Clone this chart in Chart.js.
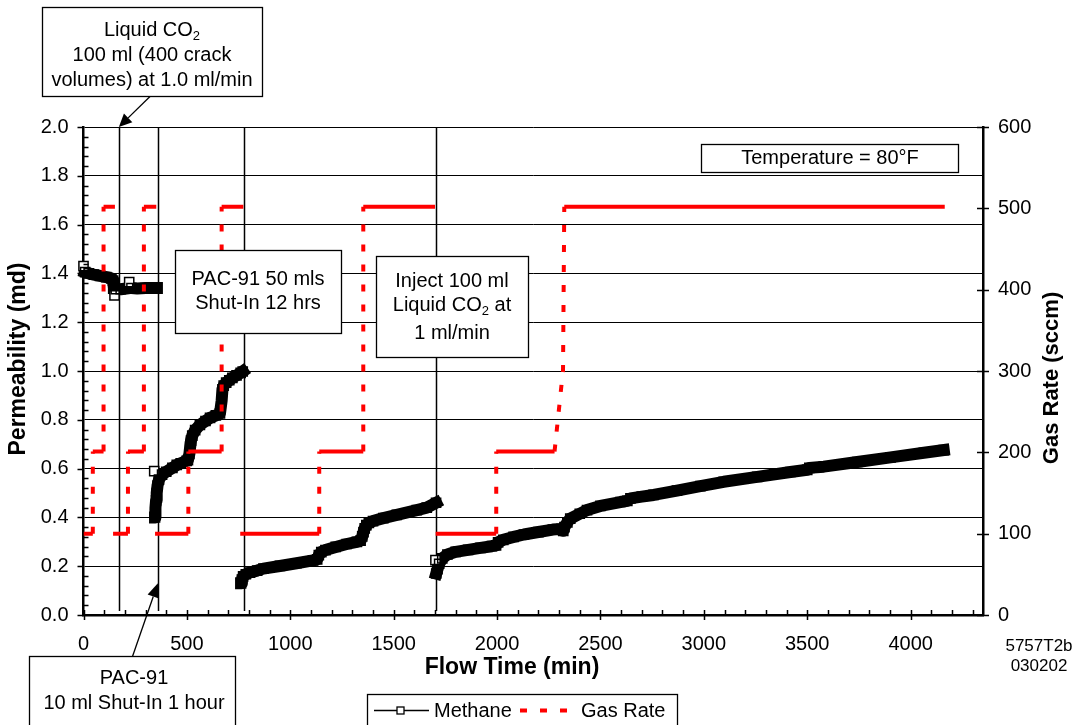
<!DOCTYPE html>
<html>
<head>
<meta charset="utf-8">
<title>Permeability and Gas Rate vs Flow Time</title>
<script src="https://cdn.jsdelivr.net/npm/chart.js@4.4.1/dist/chart.umd.min.js"></script>
<style>
  html, body { margin: 0; padding: 0; background: #fff; }
</style>
</head>
<body>
<canvas id="perm-chart" width="1076" height="725"></canvas>
<script>
// Methane permeability readings: flow time (min) and permeability (md), null splits the runs
const methaneTime = [
  0, 8, 25, 50, 80, 110, 135, 143, 147, 150, 156, 180, 205, 221, 232, 260, 300, 340, 355, null,
  342, 346, 347, 349, 351, 354, 358, 365, 380, 400, 430, 451, 470, 499, 505, 512, 516, 520, 526, 540, 563, 590, 612, 640, 660, 668, 672, 678, 690, 705, 720, 740, 760, 770, null,
  762, 766, 772, 785, 805, 840, 870, 950, 1030, 1110, 1130, 1138, 1150, 1170, 1220, 1273, 1322, 1340, 1348, 1354, 1360, 1368, 1380, 1400, 1450, 1515, 1612, 1660, 1705, null,
  1702, 1706, 1712, 1720, 1735, 1760, 1800, 1860, 1920, 1975, 1995, 2005, 2030, 2080, 2130, 2200, 2270, 2312, 2320, 2326, 2340, 2354, 2400, 2435, 2500, 2596, 2630, 2645, 2700, 2757, 2870, 2983, 3096, 3258, 3419, 3500, 3510, 3580, 3742, 3903, 4064, 4160
];
const methanePerm = [
  1.43, 1.405, 1.40, 1.395, 1.39, 1.385, 1.38, 1.37, 1.34, 1.31, 1.335, 1.335, 1.338, 1.364, 1.34, 1.338, 1.34, 1.34, 1.34, null,
  0.59, 0.40, 0.415, 0.44, 0.47, 0.50, 0.53, 0.555, 0.575, 0.587, 0.603, 0.615, 0.622, 0.632, 0.635, 0.66, 0.69, 0.715, 0.735, 0.758, 0.779, 0.795, 0.808, 0.818, 0.826, 0.878, 0.925, 0.94, 0.952, 0.962, 0.972, 0.982, 0.992, 0.998, null,
  0.13, 0.145, 0.158, 0.167, 0.174, 0.182, 0.19, 0.201, 0.212, 0.224, 0.228, 0.245, 0.258, 0.266, 0.279, 0.291, 0.30, 0.305, 0.322, 0.34, 0.355, 0.368, 0.377, 0.385, 0.397, 0.41, 0.43, 0.44, 0.46, null,
  0.225, 0.17, 0.188, 0.21, 0.232, 0.248, 0.259, 0.267, 0.275, 0.282, 0.285, 0.298, 0.308, 0.32, 0.33, 0.34, 0.35, 0.353, 0.345, 0.36, 0.38, 0.395, 0.415, 0.43, 0.447, 0.463, 0.468, 0.478, 0.485, 0.492, 0.51, 0.528, 0.546, 0.566, 0.586, 0.595, 0.603, 0.608, 0.627, 0.646, 0.665, 0.676
];

// Gas rate set points (sccm)
const gasTime = [
  0, 45, 45, 97, 97, 152, null,
  143, 215, 215, 292, 292, 352, null,
  346, 507, 507, 668, 668, 773, null,
  758, 1140, 1140, 1353, 1353, 1700, null,
  1703, 1996, 1996, 2278, 2319, 2325, 4165
];
const gasRate = [
  100, 100, 201, 201, 502, 502, null,
  100, 100, 201, 201, 502, 502, null,
  100, 100, 201, 201, 502, 502, null,
  100, 100, 201, 201, 502, 502, null,
  100, 100, 201, 201, 301, 502, 502
];

// Treatment events (flow time, min)
const eventTimes = [171, 362, 776, 1705];

// Axis ranges and ticks
const flowRange = [0, 4350], flowMinor = 100;
const flowTicks = [0, 500, 1000, 1500, 2000, 2500, 3000, 3500, 4000];
const permRange = [0, 2.0], permStep = 0.2, permMinor = 0.04;
const rateRange = [0, 600], rateStep = 100;

const FONT = '"Liberation Sans", Arial, Helvetica, sans-serif';

function toPoints(xs, ys) {
  return xs.map((x, i) => ({ x: x, y: ys[i] }));
}

// single readings that sit off the trend get drawn as open squares on a thin line
function isolatedReadings(vals) {
  return vals.map((v, i) => {
    if (v === null) return false;
    const prev = i > 0 ? vals[i - 1] : null;
    const next = i < vals.length - 1 ? vals[i + 1] : null;
    if (prev === null && next !== null) return Math.abs(v - next) > 0.02;
    if (prev === null || next === null) return false;
    const d1 = v - prev, d2 = v - next;
    return d1 * d2 > 0 && Math.min(Math.abs(d1), Math.abs(d2)) > 0.02;
  });
}
const methaneLoose = isolatedReadings(methanePerm);

function richLine(ctx, parts, cx, cy, size) {
  // parts: plain strings, or [string] for subscripts
  const items = parts.map(p => {
    const sub = Array.isArray(p);
    const font = (sub ? Math.round(size * 0.66) : size) + 'px ' + FONT;
    ctx.font = font;
    return { txt: sub ? p[0] : p, sub, font, w: ctx.measureText(sub ? p[0] : p).width };
  });
  let x = cx - items.reduce((s, it) => s + it.w, 0) / 2;
  ctx.textAlign = 'left';
  ctx.textBaseline = 'middle';
  items.forEach(it => {
    ctx.font = it.font;
    ctx.fillText(it.txt, x, cy + (it.sub ? size * 0.3 : 0));
    x += it.w;
  });
}

function arrow(ctx, x0, y0, x1, y1, len, half) {
  const a = Math.atan2(y1 - y0, x1 - x0);
  const bx = x1 - len * Math.cos(a), by = y1 - len * Math.sin(a);
  ctx.beginPath();
  ctx.moveTo(x0, y0);
  ctx.lineTo(bx, by);
  ctx.stroke();
  ctx.beginPath();
  ctx.moveTo(x1, y1);
  ctx.lineTo(bx + half * Math.sin(a), by - half * Math.cos(a));
  ctx.lineTo(bx - half * Math.sin(a), by + half * Math.cos(a));
  ctx.closePath();
  ctx.fill();
}

// text boxes: [left, top, right, bottom], text centre x, line centres y
const notes = [
  { box: [42.5, 7.5, 262.5, 96.5], cx: 152, ys: [30, 55, 80],
    lines: [['Liquid CO', ['2']], ['100 ml (400 crack'], ['volumes) at 1.0 ml/min']] },
  { box: [29.5, 656.5, 235.5, 760], cx: 134, ys: [678, 703],
    lines: [['PAC-91'], ['10 ml Shut-In 1 hour']] },
  { box: [175.5, 250.5, 341.5, 333.5], cx: 258, ys: [279, 303.5],
    lines: [['PAC-91 50 mls'], ['Shut-In 12 hrs']] },
  { box: [376.5, 256.5, 528.5, 357.5], cx: 452, ys: [281, 305, 333],
    lines: [['Inject 100 ml'], ['Liquid CO', ['2'], ' at'], ['1 ml/min']] },
  { box: [701.5, 144.5, 958.5, 172.5], cx: 830, ys: [158.5],
    lines: [['Temperature = 80°F']] }
];

const overlay = {
  id: 'overlay',
  beforeDatasetsDraw(chart) {
    const { ctx, chartArea: a, scales: { x } } = chart;
    ctx.save();
    ctx.strokeStyle = '#000';
    ctx.lineWidth = 1.5;
    eventTimes.forEach(t => {
      const px = Math.round(x.getPixelForValue(t)) + 0.5;
      ctx.beginPath();
      ctx.moveTo(px, a.top);
      ctx.lineTo(px, a.bottom - 4);
      ctx.stroke();
    });
    ctx.restore();
  },
  afterDatasetsDraw(chart) {
    const { ctx, chartArea: a, scales: { x, y, y1 } } = chart;
    ctx.save();
    ctx.fillStyle = '#000';
    ctx.strokeStyle = '#000';

    // tick marks
    ctx.lineWidth = 1.5;
    ctx.beginPath();
    for (let i = 0; i <= Math.round(permRange[1] / permMinor); i++) {
      const py = Math.round(y.getPixelForValue(i * permMinor)) + 0.5;
      if (i % 5 === 0) { ctx.moveTo(a.left - 6, py); ctx.lineTo(a.left, py); }
      else { ctx.moveTo(a.left, py); ctx.lineTo(a.left + 5, py); }
    }
    for (let t = 0; t <= flowRange[1]; t += flowMinor) {
      const px = Math.round(x.getPixelForValue(t)) + 0.5;
      if (flowTicks.includes(t)) { ctx.moveTo(px, a.bottom - 5); ctx.lineTo(px, a.bottom + 5); }
      else { ctx.moveTo(px, a.bottom - 5); ctx.lineTo(px, a.bottom); }
    }
    for (let v = rateRange[0]; v <= rateRange[1]; v += rateStep) {
      const py = Math.round(y1.getPixelForValue(v)) + 0.5;
      ctx.moveTo(a.right - 6, py); ctx.lineTo(a.right + 6, py);
    }
    ctx.stroke();

    // annotation boxes
    notes.forEach(n => {
      const [l, t, r, b] = n.box;
      ctx.fillStyle = '#fff';
      ctx.fillRect(l, t, r - l, b - t);
      ctx.lineWidth = 1.3;
      ctx.strokeStyle = '#000';
      ctx.strokeRect(l, t, r - l, b - t);
      ctx.fillStyle = '#000';
      n.lines.forEach((ln, i) => richLine(ctx, ln, n.cx, n.ys[i], 20));
    });

    // arrows to the event lines
    ctx.lineWidth = 1.3;
    arrow(ctx, 150, 96.5, x.getPixelForValue(eventTimes[0]), a.top, 13, 6);
    arrow(ctx, 132.5, 656.5, x.getPixelForValue(eventTimes[1]) - 0.5, y.getPixelForValue(0.13), 14, 6);

    // axis titles
    ctx.textAlign = 'center';
    ctx.textBaseline = 'middle';
    ctx.font = 'bold 23px ' + FONT;
    ctx.fillText('Flow Time (min)', 512, 668);
    ctx.save();
    ctx.translate(19, 359);
    ctx.rotate(-Math.PI / 2);
    ctx.fillText('Permeability (md)', 0, 0);
    ctx.restore();
    ctx.font = 'bold 22px ' + FONT;
    ctx.save();
    ctx.translate(1052, 378);
    ctx.rotate(-Math.PI / 2);
    ctx.fillText('Gas Rate (sccm)', 0, 0);
    ctx.restore();

    // figure code
    ctx.font = '17px ' + FONT;
    ctx.fillText('5757T2b', 1039, 646);
    ctx.fillText('030202', 1039, 666);

    // legend
    const ds = chart.data.datasets;
    ctx.lineWidth = 1.3;
    ctx.strokeRect(367.5, 694.5, 310, 50);
    ctx.beginPath();
    ctx.moveTo(374, 710.5); ctx.lineTo(429, 710.5);
    ctx.stroke();
    ctx.fillStyle = '#fff';
    ctx.fillRect(397, 707, 7, 7);
    ctx.strokeRect(397, 707, 7, 7);
    ctx.fillStyle = '#000';
    ctx.font = '20px ' + FONT;
    ctx.textAlign = 'left';
    ctx.fillText(ds[0].label, 434, 711);
    ctx.strokeStyle = '#ff0000';
    ctx.lineWidth = 4;
    ctx.setLineDash([7, 13]);
    ctx.beginPath();
    ctx.moveTo(520, 710.5); ctx.lineTo(568, 710.5);
    ctx.stroke();
    ctx.setLineDash([]);
    ctx.fillText(ds[1].label, 581, 711);
    ctx.restore();
  }
};

const tickFont = { family: FONT, size: 20 };

new Chart(document.getElementById('perm-chart').getContext('2d'), {
  type: 'line',
  data: {
    datasets: [
      {
        label: 'Methane',
        data: toPoints(methaneTime, methanePerm),
        yAxisID: 'y',
        borderColor: '#000',
        borderWidth: 12,
        borderCapStyle: 'square',
        borderJoinStyle: 'round',
        pointStyle: 'rect',
        pointRadius: 6.5,
        pointBorderWidth: 1.5,
        pointBorderColor: '#000',
        pointBackgroundColor: c => methaneLoose[c.dataIndex] ? '#fff' : 'rgba(0,0,0,0)',
        segment: {
          borderWidth: c => (methaneLoose[c.p0DataIndex] || methaneLoose[c.p1DataIndex]) ? 1.3 : undefined
        },
        tension: 0,
        spanGaps: false,
        clip: 8,
        order: 2
      },
      {
        label: 'Gas Rate',
        data: toPoints(gasTime, gasRate),
        yAxisID: 'y1',
        borderColor: '#ff0000',
        borderWidth: 4,
        borderDash: [],
        pointRadius: 0,
        segment: {
          borderDash: c => Math.abs(c.p1.y - c.p0.y) > Math.abs(c.p1.x - c.p0.x) ? [7, 13] : undefined
        },
        tension: 0,
        spanGaps: false,
        order: 1
      }
    ]
  },
  options: {
    responsive: false,
    animation: false,
    events: [],
    layout: { padding: { top: 127, left: 0, right: 0, bottom: 0 } },
    plugins: { legend: { display: false }, tooltip: { enabled: false } },
    scales: {
      x: {
        type: 'linear',
        min: flowRange[0],
        max: flowRange[1],
        afterBuildTicks: s => { s.ticks = flowTicks.map(v => ({ value: v })); },
        afterFit: s => { s.height = 110; },
        grid: { display: false, drawTicks: false },
        border: { display: true, color: '#000', width: 2.5 },
        ticks: {
          maxRotation: 0,
          autoSkip: false,
          padding: 17,
          color: '#000',
          font: tickFont,
          callback: v => String(v)
        }
      },
      y: {
        position: 'left',
        min: permRange[0],
        max: permRange[1],
        afterFit: s => { s.width = 83.5; },
        grid: { color: '#000', lineWidth: 1, drawTicks: false },
        border: { display: true, color: '#000', width: 2.5 },
        ticks: {
          stepSize: permStep,
          padding: 15,
          color: '#000',
          font: tickFont,
          callback: v => v.toFixed(1)
        }
      },
      y1: {
        position: 'right',
        min: rateRange[0],
        max: rateRange[1],
        afterFit: s => { s.width = 93; },
        grid: { display: false, drawTicks: false },
        border: { display: true, color: '#000', width: 2.5 },
        ticks: {
          stepSize: rateStep,
          padding: 15,
          color: '#000',
          font: tickFont,
          callback: v => String(v)
        }
      }
    }
  },
  plugins: [overlay]
});
</script>
</body>
</html>
